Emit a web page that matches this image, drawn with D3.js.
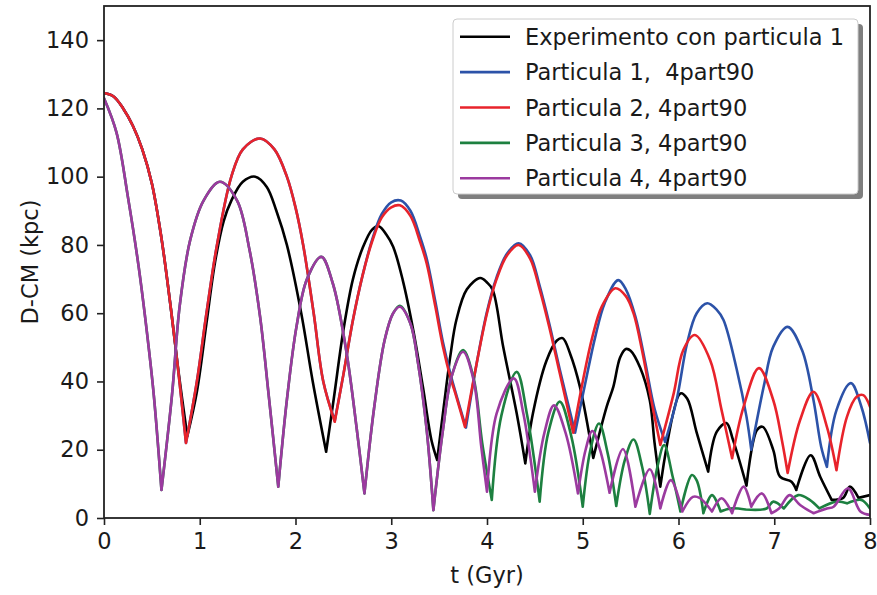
<!DOCTYPE html>
<html>
<head>
<meta charset="utf-8">
<script src="https://d3js.org/d3.v7.min.js"></script>
<style>
  body { margin: 0; background: #fff; }
  text { font-family: "DejaVu Sans", sans-serif; fill: #1a1a1a; }
  .series { fill: none; stroke-width: 2.6; stroke-linecap: round; stroke-linejoin: round; }
</style>
</head>
<body>
<script>
  // axis ticks
  const xTicks = [0, 1, 2, 3, 4, 5, 6, 7, 8];
  const yTicks = [0, 20, 40, 60, 80, 100, 120, 140];

  const labels = ["Experimento con particula 1", "Particula 1,  4part90", "Particula 2, 4part90",
    "Particula 3, 4part90", "Particula 4, 4part90"];

  // [t (Gyr), D-CM (kpc)]
  const experimento = [[0, 124.5], [0.1, 123.5], [0.2, 120], [0.3, 115], [0.4, 108], [0.5, 98], [0.6, 82],
    [0.7, 61], [0.78, 42.5], [0.87, 24], [0.97, 37], [1.07, 57], [1.16, 75], [1.25, 87], [1.33, 93], [1.45, 98.5],
    [1.58, 100], [1.7, 97], [1.8, 90], [1.91, 80], [2.06, 60], [2.18, 40], [2.32, 19.4], [2.4, 35], [2.5, 55],
    [2.6, 70], [2.7, 79], [2.8, 84.5], [2.87, 85.5], [2.95, 83], [3.02, 79.5], [3.12, 69.7], [3.23, 55],
    [3.33, 38.5], [3.42, 22.8], [3.48, 17], [3.55, 33], [3.62, 48], [3.68, 58], [3.79, 67], [3.93, 70.3],
    [4.0, 69], [4.06, 66.8], [4.17, 50], [4.31, 30.7], [4.4, 16], [4.48, 30.7], [4.62, 46], [4.73, 52],
    [4.79, 52.7], [4.87, 48], [4.97, 38.5], [5.11, 17.6], [5.25, 32.6], [5.32, 38.5], [5.39, 47], [5.45, 49.5],
    [5.5, 49], [5.6, 44], [5.7, 34.5], [5.75, 22], [5.81, 9.2], [6.02, 36.5], [6.09, 35], [6.19, 25],
    [6.31, 13.6], [6.4, 25.3], [6.5, 27.8], [6.57, 22.8], [6.71, 9.5], [6.82, 25.8], [6.88, 26.7], [6.99, 19.9],
    [7.06, 12.1], [7.18, 10.6], [7.23, 8.2], [7.38, 18.4], [7.48, 12.1], [7.6, 5.3], [7.72, 5.9], [7.79, 9.2],
    [7.88, 5.9], [8.0, 6.7]];

  const particula1 = [[0, 124.5], [0.1, 123.5], [0.2, 120], [0.3, 115], [0.4, 108], [0.5, 98], [0.6, 82],
    [0.7, 61], [0.78, 42], [0.856, 22], [0.97, 40], [1.07, 60], [1.18, 80], [1.33, 100], [1.45, 108],
    [1.63, 111.2], [1.78, 108], [1.91, 100], [2.0, 91], [2.08, 80], [2.19, 60], [2.29, 40], [2.41, 28.5],
    [2.5, 42], [2.6, 58], [2.7, 71], [2.8, 81.5], [2.9, 89], [3.0, 92.5], [3.1, 93], [3.2, 90], [3.3, 82.5],
    [3.37, 76], [3.46, 63.5], [3.54, 51.5], [3.62, 42], [3.68, 36], [3.78, 26.5], [3.89, 45], [4.0, 60.5],
    [4.1, 70.5], [4.21, 77.5], [4.33, 80.5], [4.45, 77], [4.55, 68], [4.65, 57], [4.76, 43.5], [4.92, 25],
    [5.03, 40], [5.13, 53], [5.23, 63], [5.37, 69.7], [5.45, 67], [5.55, 59], [5.65, 46], [5.75, 32],
    [5.86, 22.3], [5.98, 34.5], [6.09, 51.2], [6.19, 60], [6.3, 62.9], [6.4, 61], [6.47, 58], [6.61, 43.3],
    [6.71, 29.7], [6.76, 20], [6.89, 38.5], [6.99, 50.2], [7.14, 56], [7.29, 49.2], [7.41, 34.5], [7.49, 20.9],
    [7.55, 15], [7.65, 31.6], [7.8, 39.5], [7.91, 32.6], [8.0, 22]];

  const particula2 = [[0, 124.5], [0.1, 123.5], [0.2, 120], [0.3, 115], [0.4, 108], [0.5, 98], [0.6, 82],
    [0.7, 61], [0.78, 42], [0.856, 22], [0.97, 40], [1.07, 60], [1.18, 80], [1.33, 100], [1.45, 108],
    [1.63, 111.2], [1.78, 108], [1.91, 100], [2.0, 91], [2.08, 80], [2.19, 60], [2.29, 40], [2.41, 28.2],
    [2.5, 42], [2.6, 58], [2.7, 71], [2.8, 81], [2.9, 88], [3.0, 91], [3.09, 91.6], [3.2, 88.5], [3.3, 81],
    [3.37, 74.6], [3.46, 62], [3.54, 50.2], [3.62, 41], [3.68, 35.5], [3.77, 26.7], [3.89, 45], [4.0, 60],
    [4.1, 70], [4.21, 77], [4.33, 80], [4.45, 76], [4.55, 67], [4.65, 56], [4.76, 42.4], [4.9, 25], [5.0, 40],
    [5.1, 53], [5.2, 62], [5.34, 67.3], [5.45, 65], [5.53, 60], [5.62, 49], [5.72, 34], [5.81, 21.4],
    [5.95, 36.5], [6.05, 49.2], [6.17, 53.6], [6.33, 46.3], [6.45, 31.6], [6.56, 17.5], [6.68, 32.6],
    [6.84, 43.9], [6.99, 34.5], [7.08, 22.8], [7.14, 13.2], [7.27, 28.7], [7.41, 37], [7.55, 26.7], [7.65, 14],
    [7.76, 29.7], [7.86, 35.5], [7.93, 36], [8.0, 32.6]];

  const particula3 = [[0, 123], [0.13, 113], [0.25, 94], [0.36, 74], [0.45, 54], [0.52, 36], [0.6, 8.2],
    [0.71, 36], [0.79, 62], [0.9, 81.4], [1.04, 93], [1.21, 98.5], [1.39, 93], [1.52, 78.5], [1.63, 59],
    [1.72, 36], [1.82, 9.2], [1.91, 34.6], [2.01, 56], [2.12, 70], [2.27, 76.5], [2.39, 68.7], [2.53, 49],
    [2.64, 26], [2.72, 7.2], [2.82, 32], [2.93, 52], [3.02, 60], [3.09, 62.2], [3.2, 57], [3.28, 45.3],
    [3.37, 25.8], [3.44, 2.3], [3.54, 25.8], [3.63, 41.4], [3.75, 49.2], [3.86, 41], [3.95, 22], [4.05, 5.3],
    [4.15, 30], [4.31, 42.8], [4.42, 30], [4.55, 4.8], [4.64, 25], [4.76, 34.1], [4.88, 24], [5.0, 3.3],
    [5.08, 20], [5.17, 27.7], [5.26, 19], [5.35, 3.5], [5.44, 17], [5.53, 23], [5.62, 15], [5.7, 1.2],
    [5.78, 15], [5.85, 21.4], [5.94, 12], [6.02, 1.9], [6.14, 12.6], [6.19, 11], [6.26, 1.4], [6.35, 6.7],
    [6.44, 1.9], [6.54, 2.8], [6.7, 2.5], [6.92, 2.8], [6.99, 4.8], [7.1, 2.8], [7.25, 6.7], [7.37, 5.3],
    [7.47, 2.8], [7.65, 4.8], [7.76, 4.3], [7.91, 5.3], [8.0, 2.8]];

  const particula4 = [[0, 123], [0.13, 113], [0.25, 94], [0.36, 74], [0.45, 54], [0.52, 36], [0.6, 8.2],
    [0.71, 36], [0.79, 62], [0.9, 81.4], [1.04, 93], [1.21, 98.5], [1.39, 93], [1.52, 78.5], [1.63, 59],
    [1.72, 36], [1.82, 9.2], [1.91, 34.6], [2.01, 56], [2.12, 70], [2.27, 76.5], [2.39, 68.7], [2.53, 49],
    [2.64, 26], [2.72, 7.2], [2.82, 32], [2.93, 52], [3.02, 60], [3.09, 61.9], [3.2, 57], [3.28, 45.3],
    [3.37, 25.8], [3.44, 2.3], [3.54, 25.8], [3.63, 41.4], [3.75, 48.7], [3.86, 40.4], [3.94, 20.9], [4.0, 7.7],
    [4.1, 30.6], [4.28, 40.9], [4.38, 30.6], [4.5, 7.7], [4.6, 25], [4.7, 33], [4.82, 25], [4.95, 7.2],
    [5.03, 20], [5.1, 25.5], [5.18, 20], [5.28, 7.4], [5.42, 20.2], [5.55, 3.3], [5.7, 14.3], [5.81, 2.8],
    [5.92, 11.1], [6.04, 1.9], [6.15, 6.2], [6.22, 5.9], [6.35, 1.9], [6.45, 5.8], [6.56, 1.4], [6.68, 9.2],
    [6.76, 3.3], [6.87, 7.2], [6.97, 1.4], [7.05, 2.8], [7.16, 6.7], [7.27, 3.8], [7.41, 1.4], [7.55, 2.8],
    [7.62, 3.3], [7.77, 8.7], [7.9, 1.9], [8.0, 0.9]];

  const allSeries = [experimento, particula1, particula2, particula3, particula4];
  const colors = ["#000000", "#2c52a8", "#e8232b", "#1d8040", "#9b3a9f"];

  const width = 877, height = 595;
  const margin = { top: 6, right: 7, bottom: 77, left: 104 };

  const svg = d3.select("body").append("svg")
    .attr("width", width)
    .attr("height", height);

  const x = d3.scaleLinear().domain([0, 8]).range([margin.left, width - margin.right]);
  const y = d3.scaleLinear().domain([0, 150]).range([height - margin.bottom, margin.top]);

  svg.append("clipPath").attr("id", "plot")
    .append("rect")
    .attr("x", x(0)).attr("y", y(150))
    .attr("width", x(8) - x(0)).attr("height", y(0) - y(150));

  // split a series at its local minima so that each arch gets a smooth curve
  // but the pericentre passages stay sharp
  function arches(pts) {
    const segs = [];
    let cur = [pts[0]];
    for (let i = 1; i < pts.length; i++) {
      cur.push(pts[i]);
      if (i < pts.length - 1 && pts[i][1] < pts[i - 1][1] && pts[i][1] < pts[i + 1][1]) {
        segs.push(cur);
        cur = [pts[i]];
      }
    }
    segs.push(cur);
    return segs;
  }

  const line = d3.line()
    .x(d => x(d[0]))
    .y(d => y(d[1]))
    .curve(d3.curveCatmullRom.alpha(0.5));

  const plot = svg.append("g").attr("clip-path", "url(#plot)");
  plot.selectAll(".series")
    .data(allSeries)
    .enter().append("path")
    .attr("class", "series")
    .attr("stroke", (d, i) => colors[i])
    .attr("d", d => arches(d).map(s => line(s)).join(""));

  // axes
  const xAxis = svg.append("g")
    .attr("transform", `translate(0,${y(0)})`)
    .call(d3.axisBottom(x).tickValues(xTicks).tickFormat(d3.format("d")).tickSize(7).tickPadding(8));
  const yAxis = svg.append("g")
    .attr("transform", `translate(${x(0)},0)`)
    .call(d3.axisLeft(y).tickValues(yTicks).tickFormat(d3.format("d")).tickSize(7).tickPadding(8));

  [xAxis, yAxis].forEach(g => {
    g.select(".domain").remove();
    g.selectAll(".tick line").attr("stroke", "#222").attr("stroke-width", 1.6);
    g.selectAll(".tick text").style("font-size", "22.5px").attr("fill", "#1a1a1a");
  });

  svg.append("rect")
    .attr("x", x(0)).attr("y", y(150))
    .attr("width", x(8) - x(0)).attr("height", y(0) - y(150))
    .attr("fill", "none")
    .attr("stroke", "#222")
    .attr("stroke-width", 1.8);

  svg.append("text")
    .attr("x", (x(0) + x(8)) / 2)
    .attr("y", 583)
    .attr("text-anchor", "middle")
    .style("font-size", "22.5px")
    .text("t (Gyr)");

  svg.append("text")
    .attr("transform", `translate(38,${(y(0) + y(150)) / 2}) rotate(-90)`)
    .attr("text-anchor", "middle")
    .style("font-size", "22.5px")
    .text("D-CM (kpc)");

  // legend
  const legend = svg.append("g");
  legend.append("rect")
    .attr("x", 458).attr("y", 24).attr("width", 405).attr("height", 175)
    .attr("rx", 4).attr("fill", "#7f7f7f");
  legend.append("rect")
    .attr("x", 453).attr("y", 19).attr("width", 405).attr("height", 175)
    .attr("rx", 4).attr("fill", "#fff").attr("stroke", "#cccccc").attr("stroke-width", 1);

  const rows = legend.selectAll(".row")
    .data(labels)
    .enter().append("g")
    .attr("class", "row")
    .attr("transform", (d, i) => `translate(0,${36.7 + i * 35.4})`);
  rows.append("line")
    .attr("x1", 460).attr("x2", 510)
    .attr("stroke", (d, i) => colors[i])
    .attr("stroke-width", 2.6);
  rows.append("text")
    .attr("x", 525).attr("y", 8)
    .style("font-size", "22.5px")
    .style("white-space", "pre")
    .text(d => d);
</script>
</body>
</html>
